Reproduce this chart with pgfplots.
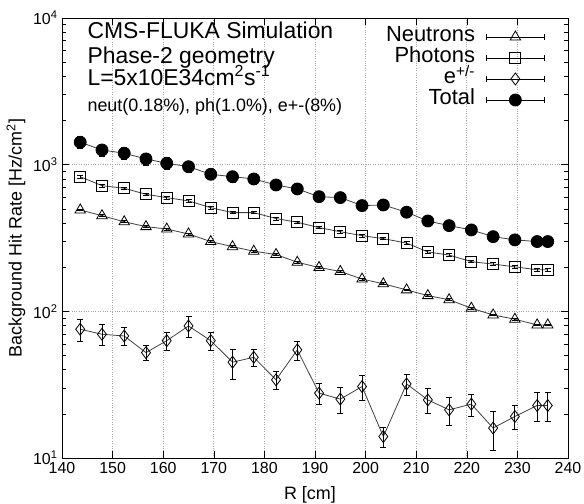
\documentclass[border=0pt]{standalone}
\usepackage{pgfplots}
\pgfplotsset{compat=1.18}
\usepackage{pgfplotstable}
\usepackage{fontspec}
\setmainfont{Liberation Sans}

\pgfplotstableread{
x y ey
143.6 491 7
147.9 449 7
152.3 408 6
156.6 378 6
160.7 364 5
165.0 337 5
169.4 299 4
173.7 276 4
177.9 257 4
182.3 244 4
186.5 216 3
190.8 199 3
195.0 187 3
199.3 166 2.5
203.5 154 2.3
208.1 140 2.1
212.3 128 1.9
216.5 120 1.8
220.9 105 1.6
225.2 94.5 1.4
229.5 88.3 1.3
233.9 80.8 1.2
236.0 80.8 1.2
}\neutrons

\pgfplotstableread{
x y ey
143.6 828 17
147.9 719 14
152.3 690 14
156.6 628 13
160.7 596 12
165.0 566 11
169.4 509 10
173.7 471 9
177.9 471 9
182.3 429 9
186.5 405 8
190.8 372 7
195.0 349 7
199.3 328 7
203.5 313 6
208.1 292 6
212.3 254 5
216.5 242 5
220.9 218 4
225.2 210 4
229.5 201 4
233.9 192 4
236.0 192 4
}\photons

\pgfplotstableread{
x y ey
143.6 75.5 12.8
147.9 69.8 11.2
152.3 67.9 9.5
156.6 52.3 6.3
160.7 63.1 8.8
165.0 79.5 12.7
169.4 63.1 8.8
173.7 45.0 10.4
177.9 48.6 6.3
182.3 34.1 4.8
186.5 54.6 8.2
190.8 27.7 4.4
195.0 25.2 5.0
199.3 30.7 6.1
203.5 14.0 2.2
208.1 32.0 5.1
212.3 24.9 4.7
216.5 21.3 4.5
220.9 23.3 4.0
225.2 16.0 4.8
229.5 19.2 3.5
233.9 22.8 5.0
236.0 22.8 5.0
}\electrons

\pgfplotstableread{
x y ey
143.6 1422 128
147.9 1259 113
152.3 1196 108
156.6 1094 98
160.7 1022 92
165.0 969 87
169.4 860 69
173.7 828 66
177.9 799 64
182.3 727 58
186.5 683 48
190.8 605 42
195.0 596 42
199.3 526 37
203.5 531 37
208.1 474 33
212.3 413 29
216.5 384 27
220.9 359 25
225.2 323 23
229.5 307 21
233.9 299 21
236.0 299 21
}\total

\begin{document}
\begin{tikzpicture}
\useasboundingbox (-62bp,-46bp) rectangle (522bp,458bp);
\begin{axis}[
  scale only axis, width=506bp, height=440bp,
  xmin=140, xmax=240, ymode=log, ymin=10, ymax=10000,
  xtick={140,150,...,240},
  ytick={10,100,1000,10000},
  yticklabels={10\textsuperscript{1},10\textsuperscript{2},10\textsuperscript{3},10\textsuperscript{4}},
  grid=major,
  major grid style={dotted, black!35, line width=0.7bp},
  tick align=inside,
  major tick length=7bp, minor tick length=4bp,
  tick style={black, line width=0.6bp},
  axis line style={black, line width=0.8bp},
  /pgf/number format/assume math mode=true,
  ticklabel style={font=\fontsize{16}{18}\selectfont},
  xticklabel style={yshift=-1bp},
  yticklabel style={xshift=-1bp},
  xlabel={R [cm]},
  ylabel={Background Hit Rate [Hz/cm\textsuperscript{2}]},
  label style={font=\fontsize{18}{20}\selectfont},
  xlabel style={at={(axis description cs:0.49,0)}, anchor=base, yshift=-42bp},
  ylabel style={at={(axis description cs:0,0.5)}, anchor=center, yshift=46bp},
  legend style={draw=none, fill=none, at={(0.9545,0.98)}, anchor=north east,
     inner sep=0pt, row sep=1bp, column sep=11bp,
     font=\fontsize{22}{22}\selectfont,
     nodes={inner sep=0pt, text height=15bp, text depth=5bp}},
  legend plot pos=right, legend cell align=right,
  legend image code/.code={
    \draw[#1, mark=none, black, line width=0.8bp] (0bp,0bp) -- (58bp,0bp);
    \draw[#1, mark=none, black, line width=0.8bp] (0bp,-3bp) -- (0bp,3bp);
    \draw[#1, mark=none, black, line width=0.8bp] (58bp,-3bp) -- (58bp,3bp);
    \draw[#1, only marks] plot coordinates {(29bp,0bp)};
  },
  every axis plot/.append style={line width=0.8bp, black!75},
  error bars/y dir=both, error bars/y explicit,
  error bars/error bar style={black, line width=0.8bp},
  error bars/error mark options={black, rotate=90, mark size=3bp, line width=0.8bp},
]
\addplot[mark=triangle, mark size=6bp, mark options={black, fill=white, solid, line width=0.8bp}]
  table[x=x, y=y, y error=ey] {\neutrons};
\addlegendentry{Neutrons}
\addplot[mark=square, mark size=5.5bp, mark options={black, fill=white, solid, line width=0.8bp}]
  table[x=x, y=y, y error=ey] {\photons};
\addlegendentry{Photons}
\addplot[mark=diamond, mark size=6bp, mark options={black, fill=white, solid, line width=0.8bp}]
  table[x=x, y=y, y error=ey] {\electrons};
\addlegendentry{e\textsuperscript{+/-}}
\addplot[mark=*, mark size=6bp, mark options={black, fill=black, solid}]
  table[x=x, y=y, y error=ey] {\total};
\addlegendentry{Total}

\node[anchor=base west, font=\fontsize{23}{23}\selectfont, black] at (rel axis cs:0.0435,0.9545) {CMS-FLUKA Simulation};
\node[anchor=base west, font=\fontsize{23}{23}\selectfont, black] at (rel axis cs:0.0435,0.8977) {Phase-2 geometry};
\node[anchor=base west, font=\fontsize{23}{23}\selectfont, black] at (rel axis cs:0.0435,0.8477) {L=5x10E34cm\textsuperscript{2}s\textsuperscript{-1}};
\node[anchor=base west, font=\fontsize{18}{18}\selectfont, black] at (rel axis cs:0.0435,0.7864) {neut(0.18\%), ph(1.0\%), e+-(8\%)};
\end{axis}
\end{tikzpicture}
\end{document}
